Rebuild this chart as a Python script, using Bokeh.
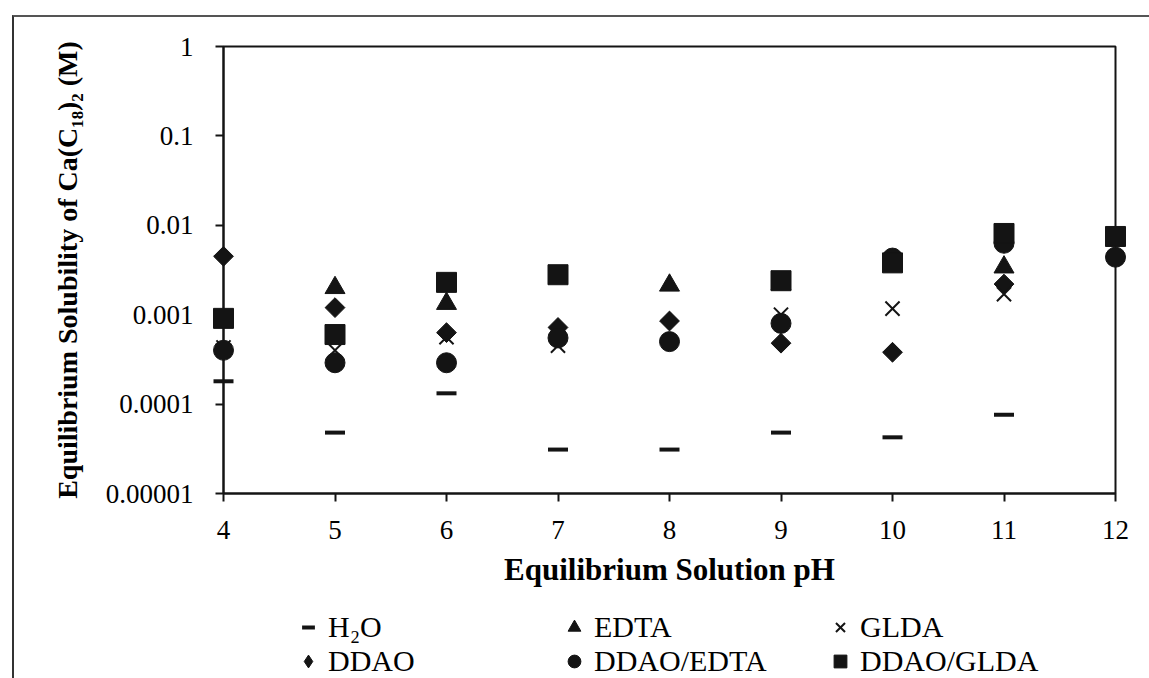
import math
from bokeh.plotting import figure
from bokeh.layouts import column
from bokeh.models import Range1d, FixedTicker, Legend, LegendItem, CustomJSTickFormatter
from bokeh.embed import file_html
from bokeh.resources import INLINE

# ---- data ----
ph = [4, 5, 6, 7, 8, 9, 10, 11, 12]
h2o = [0.00018, 0.000048, 0.000132, 0.000031, 0.000031, 0.000048, 0.0000425, 0.000076, None]
edta = [None, 0.0020, 0.00133, None, 0.00213, 0.0022, None, 0.0034, None]
glda = [0.00043, 0.00040, 0.00056, 0.00045, None, 0.0010, 0.00117, 0.0017, None]
ddao = [0.0045, 0.0012, 0.00063, 0.00072, 0.00085, 0.00048, 0.00038, 0.0022, None]
ddao_edta = [0.00040, 0.00029, 0.00029, 0.00055, 0.00050, 0.00080, 0.0043, 0.0063, 0.0044]
ddao_glda = [0.00091, 0.00060, 0.0023, 0.0028, None, 0.0024, 0.0038, 0.0081, 0.0075]

x_ticks = [4, 5, 6, 7, 8, 9, 10, 11, 12]
y_ticks = [0.00001, 0.0001, 0.001, 0.01, 0.1, 1]
y_tick_labels = ["0.00001", "0.0001", "0.001", "0.01", "0.1", "1"]

series_names = ["H\u2082O", "EDTA", "GLDA", "DDAO", "DDAO/EDTA", "DDAO/GLDA"]
series_values = [h2o, edta, glda, ddao, ddao_edta, ddao_glda]

FONT = "Liberation Serif"
INK = "#141414"

# marker styles per series (data marks / legend swatches)
styles = {
    "H\u2082O": dict(marker="dash", line_width=4, line_color=INK, fill_color=INK),
    "EDTA": dict(marker="triangle", line_color=INK, fill_color=INK),
    "GLDA": dict(marker="x", line_width=2, line_color=INK),
    "DDAO": dict(marker="diamond", line_color=INK, fill_color=INK),
    "DDAO/EDTA": dict(marker="circle", line_color=INK, fill_color=INK),
    "DDAO/GLDA": dict(marker="square", line_color=INK, fill_color=INK),
}

p = figure(width=1135, height=590, output_backend="svg", toolbar_location=None,
           y_axis_type="log",
           x_range=Range1d(4, 12), y_range=Range1d(0.00001, 1),
           min_border_left=209, min_border_right=34, min_border_top=29, min_border_bottom=114)

p.xgrid.visible = False
p.ygrid.visible = False
p.outline_line_color = INK
p.outline_line_width = 2
p.background_fill_color = "white"
p.border_fill_color = "white"

def pts(vals):
    xs = [x for x, v in zip(ph, vals) if v is not None]
    ys = [v for v in vals if v is not None]
    return xs, ys

rs = []
rs.append(p.scatter(*pts(h2o), size=20, **styles["H\u2082O"]))
rs.append(p.scatter(*pts(ddao), marker="square", angle=math.pi / 4, size=14,
                    line_color=INK, fill_color=INK))
rs.append(p.scatter(*pts(edta), size=20, **styles["EDTA"]))
rs.append(p.scatter(*pts(glda), size=20, **styles["GLDA"]))
rs.append(p.scatter(*pts(ddao_edta), size=20, **styles["DDAO/EDTA"]))
rs.append(p.scatter(*pts(ddao_glda), size=20, **styles["DDAO/GLDA"]))
for r in rs:
    r.level = "overlay"

# axes
for ax in (p.xaxis[0], p.yaxis[0]):
    ax.axis_line_color = INK
    ax.axis_line_width = 2
    ax.major_tick_line_color = INK
    ax.major_tick_line_width = 2
    ax.major_tick_out = 8
    ax.major_tick_in = 0
    ax.minor_tick_line_color = None
    ax.major_label_text_font = FONT
    ax.major_label_text_font_size = "27px"
    ax.major_label_text_color = "black"
    ax.axis_label_text_font = FONT
    ax.axis_label_text_font_style = "bold"
    ax.axis_label_text_color = "black"

p.xaxis.ticker = FixedTicker(ticks=x_ticks)
p.xaxis.major_label_standoff = 19
p.xaxis.axis_label = "Equilibrium Solution pH"
p.xaxis.axis_label_text_font_size = "31px"
p.xaxis.axis_label_standoff = 10

p.yaxis.ticker = FixedTicker(ticks=y_ticks)
p.yaxis.formatter = CustomJSTickFormatter(args=dict(tvals=y_ticks, tlabels=y_tick_labels), code="""
let best = 0, bd = Infinity;
for (let i = 0; i < tvals.length; i++) {
  const d = Math.abs(Math.log10(tick) - Math.log10(tvals[i]));
  if (d < bd) { bd = d; best = i; }
}
return tlabels[best];
""")
p.yaxis.major_label_standoff = 22
p.yaxis.axis_label = "Equilibrium Solubility of Ca(C\u2081\u2088)\u2082 (M)"
p.yaxis.axis_label_text_font_size = "28px"
p.yaxis.axis_label_standoff = 20

# ---- legend strip below the chart ----
# the key renderers hold the same series; the strip's ranges keep them out of view
q = figure(width=1135, height=71, output_backend="svg", toolbar_location=None,
           x_range=Range1d(0, 1), y_range=Range1d(0, 1),
           min_border_left=0, min_border_right=0, min_border_top=0, min_border_bottom=0)
q.axis.visible = False
q.xgrid.visible = False
q.ygrid.visible = False
q.outline_line_color = None
q.background_fill_color = "white"
q.border_fill_color = "white"

items = []
for name, vals in zip(series_names, series_values):
    key = q.scatter(*pts(vals), size=14, **styles[name])
    items.append(LegendItem(label=name, renderers=[key]))
legend = Legend(items=items, orientation="horizontal", ncols=3,
                glyph_width=36, glyph_height=32, label_width=228, label_standoff=2,
                spacing=0, padding=0, margin=0,
                label_text_font=FONT, label_text_font_size="30px", label_text_color="black",
                border_line_alpha=0, background_fill_alpha=0, location=(67, 0))
q.add_layout(legend, "center")

layout = column(p, q, spacing=0,
                styles={"margin-left": "12px", "margin-top": "15px",
                        "border-left": "2px solid #333333", "border-top": "2px solid #555555"})

open("out.html", "w").write(file_html(layout, INLINE))
